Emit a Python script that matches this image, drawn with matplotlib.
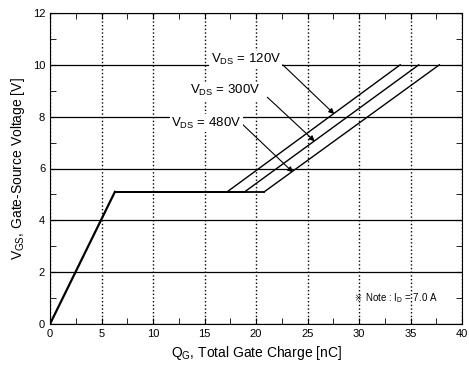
import numpy as np
import matplotlib
matplotlib.use('Agg')
from matplotlib import pyplot as plt
from matplotlib.ticker import MultipleLocator

plt.rcParams['font.family'] = ['Liberation Sans', 'DejaVu Sans']
plt.rcParams['mathtext.fontset'] = 'custom'
plt.rcParams['mathtext.rm'] = 'Liberation Sans'
plt.rcParams['mathtext.it'] = 'Liberation Sans'

# shared ramp up to the plateau
ramp_q = [0, 6.3]
ramp_v = [0, 5.1]

# one curve per drain voltage: plateau end, then rise to 10 V
vds_labels = ['120V', '300V', '480V']
plateau_end_q = [17.2, 18.9, 20.8]
plateau_v = 5.1
end_q = [34.0, 35.8, 37.8]
end_v = 10.0

# label text positions and arrow tips
label_xy = [(19.0, 10.2), (17.0, 9.0), (15.2, 7.75)]
arrow_from = [(22.6, 10.0), (21.1, 8.75), (18.7, 7.7)]
arrow_to = [(27.6, 8.1), (25.7, 7.05), (23.6, 5.85)]

fig = plt.figure(figsize=(4.69, 3.77), dpi=100)
ax = fig.add_axes([50/469, 53/377, 412/469, 311/377])

ax.plot(ramp_q, ramp_v, color='black', lw=1.6)
for i in range(3):
    ax.plot([ramp_q[1], plateau_end_q[i]], [plateau_v, plateau_v], color='black', lw=1.3)
    ax.plot([plateau_end_q[i], end_q[i]], [plateau_v, end_v], color='black', lw=1.0)

for i in range(3):
    ax.annotate('', xy=arrow_to[i], xytext=arrow_from[i],
                arrowprops=dict(arrowstyle='-|>', color='black', lw=0.8,
                                mutation_scale=8, shrinkA=0, shrinkB=0))
    ax.text(label_xy[i][0], label_xy[i][1], r'V$_{\rm DS}$ = ' + vds_labels[i],
            ha='center', va='center', fontsize=9.5, zorder=5,
            bbox=dict(facecolor='white', edgecolor='none', pad=1))

# note: the reference mark is only in DejaVu Sans
ax.text(29.5, 1.0, '\u203b', fontsize=6, va='center', ha='left', family='DejaVu Sans')
ax.text(30.6, 1.0, 'Note : I$_{\\rm D}$ = 7.0 A', fontsize=7, va='center')

ax.set_xlim(0, 40)
ax.set_ylim(0, 12)
ax.xaxis.set_major_locator(MultipleLocator(5))
ax.xaxis.set_minor_locator(MultipleLocator(2.5))
ax.yaxis.set_major_locator(MultipleLocator(2))
ax.yaxis.set_minor_locator(MultipleLocator(1))
ax.tick_params(which='both', direction='in', top=True, right=True, labelsize=8)
ax.tick_params(which='major', length=4)
ax.tick_params(which='minor', length=4)

ax.grid(axis='x', which='major', color='black', linestyle=':', lw=1.0)
ax.grid(axis='y', which='major', color='black', linestyle='-', lw=0.9)

ax.set_xlabel(r'Q$_{\rm G}$, Total Gate Charge [nC]', fontsize=10)
ax.set_ylabel(r'V$_{\rm GS}$, Gate-Source Voltage [V]', fontsize=10)

fig.savefig('out.png', dpi=100)
